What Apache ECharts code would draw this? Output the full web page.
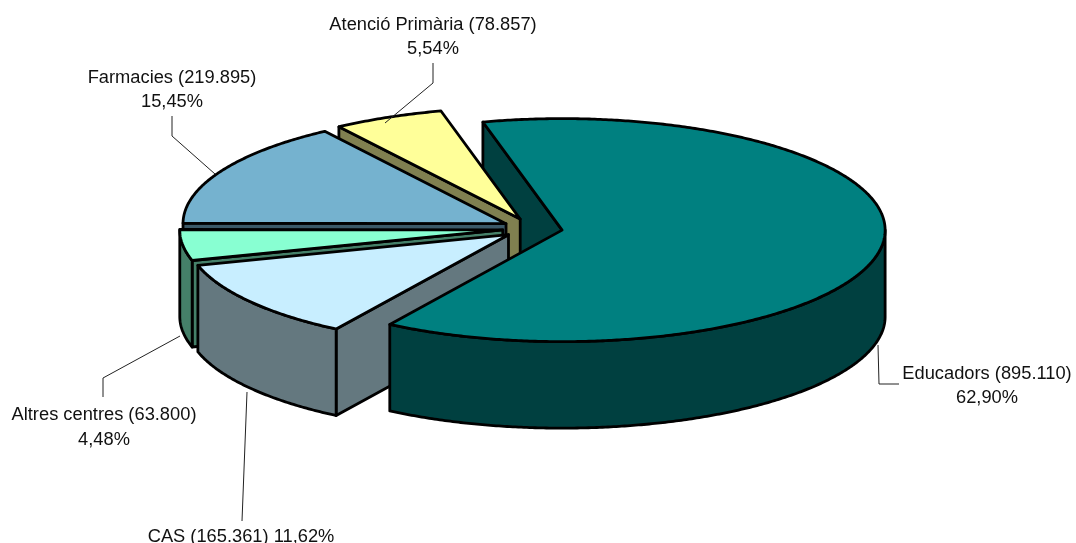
<!DOCTYPE html>
<html>
<head>
<meta charset="utf-8">
<style>html,body{margin:0;padding:0;background:#fff}#c{width:1076px;height:543px}</style>
<script src="https://cdn.jsdelivr.net/npm/echarts@6/dist/echarts.min.js"></script>
</head>
<body>
<div id="c"></div>
<script>
// Data, clockwise from the first slice
var categories = ['Educadors', 'CAS', 'Altres centres', 'Farmacies', 'Atenció Primària'];
var seriesValues = [895110, 165361, 63800, 219895, 78857];

// Styles
var topColors = ['#008080', '#C8EEFF', '#88FFD2', '#75B2CF', '#FFFF99'];
var wallColors = ['#004040', '#64787F', '#458069', '#3B5968', '#808050'];
var paintOrder = [50, 40, 30, 20, 10];

// Pseudo-3D projection of the pie
var pie = { cx: 532.5, cy: 228.5, rx: 323, ry: 111.5, depth: 86.5, explode: 30, startAngle: 104.2 };

// Label layout
var labelCenters = [[987, 386], [241, 537], [104, 427.5], [172, 90], [433, 37]];
var labelBreaks = ['\n', ' ', '\n', '\n', '\n'];
var leaderLines = [
  [[878, 345], [879, 384], [899, 384]],
  [[247, 392], [242, 521]],
  [[180, 336], [103, 378], [103, 397]],
  [[172, 116], [172, 136], [215, 174]],
  [[433, 63], [433, 83], [385, 123]]
];

var total = seriesValues.reduce(function (a, b) { return a + b; }, 0);
var RAD = Math.PI / 180;

function sliceAngles(i) {
  var before = 0;
  for (var k = 0; k < i; k++) before += seriesValues[k];
  var a0 = pie.startAngle - before / total * 360;
  return [a0, a0 - seriesValues[i] / total * 360];
}
function centerOf(a0, a1) {
  var m = (a0 + a1) / 2 * RAD, f = pie.explode;
  return [pie.cx + f * Math.cos(m), pie.cy - f * pie.ry / pie.rx * Math.sin(m)];
}
function rim(c, t, dy) {
  return [c[0] + pie.rx * Math.cos(t * RAD), c[1] - pie.ry * Math.sin(t * RAD) + (dy || 0)];
}
function arcPoints(c, from, to, dy) {
  var n = Math.max(2, Math.ceil(Math.abs(from - to) * 2)), out = [];
  for (var i = 0; i <= n; i++) out.push(rim(c, from + (to - from) * i / n, dy));
  return out;
}
function poly(points, fill, z2) {
  return {
    type: 'polygon', z2: z2, shape: { points: points },
    style: { fill: fill, stroke: '#000', lineWidth: 2.8, lineJoin: 'round' }
  };
}
function thousands(v) { return String(v).replace(/\B(?=(\d{3})+$)/g, '.'); }

function renderSlice(params, api) {
  var i = params.dataIndex, value = api.value(0);
  var ang = sliceAngles(i), a0 = ang[0], a1 = ang[1];
  var c = centerOf(a0, a1), d = pie.depth, z = paintOrder[i];
  var wall = wallColors[i], children = [];

  // Radial cut faces that look towards the viewer
  if (Math.cos(a0 * RAD) < 0) {
    var p = rim(c, a0);
    children.push(poly([c, p, [p[0], p[1] + d], [c[0], c[1] + d]], wall, i === 0 ? 1 : z));
  }
  // Outer wall: only the part on the front half of the ellipse
  var lo = Math.max(a1, -180), hi = Math.min(a0, 0);
  var segs = [];
  if (hi > lo) segs.push([hi, lo]);
  if (a0 > 180) segs.push([a0, Math.max(a1, 180)]);
  segs.forEach(function (s) {
    var topEdge = arcPoints(c, s[0], s[1]);
    var botEdge = arcPoints(c, s[1], s[0], d);
    children.push(poly(topEdge.concat(botEdge), wall, z + 1));
  });
  // Top face
  children.push(poly([c].concat(arcPoints(c, a0, a1)), topColors[i], z + 2));

  // Leader line and label
  children.push({
    type: 'polyline', z2: 70, shape: { points: leaderLines[i] },
    style: { fill: null, stroke: '#222', lineWidth: 1 }
  });
  children.push({
    type: 'text', z2: 71,
    style: {
      text: categories[i] + ' (' + thousands(value) + ')' + labelBreaks[i] +
        (value / total * 100).toFixed(2).replace('.', ',') + '%',
      x: labelCenters[i][0], y: labelCenters[i][1],
      align: 'center', verticalAlign: 'middle',
      fontFamily: '"Liberation Sans", Arial, sans-serif', fontSize: 18.3, lineHeight: 24.5, fill: '#111'
    }
  });
  return { type: 'group', children: children };
}

var chart = echarts.init(document.getElementById('c'), null, { renderer: 'canvas' });
chart.setOption({
  animation: false,
  backgroundColor: '#fff',
  series: [{
    type: 'custom',
    coordinateSystem: 'none',
    renderItem: renderSlice,
    silent: true,
    data: seriesValues.map(function (v, i) { return { name: categories[i], value: [v] }; })
  }]
});
</script>
</body>
</html>
